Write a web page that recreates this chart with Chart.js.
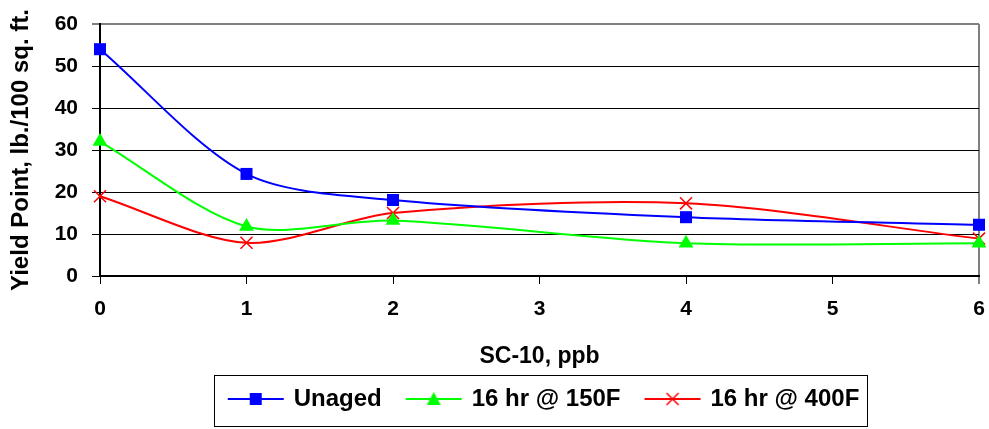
<!DOCTYPE html>
<html>
<head>
<meta charset="utf-8">
<script src="https://cdn.jsdelivr.net/npm/chart.js@4"></script>
<style>body{margin:0;background:#fff}</style>
</head>
<body>
<canvas id="myChart" width="989" height="429"></canvas>
<script>
const xVals = [0, 1, 2, 4, 6];
const unaged = [54, 24.3, 18.1, 14, 12.2];
const hr150 = [32, 11.8, 13.2, 7.8, 7.8];
const hr400 = [19, 7.9, 15, 17.3, 8.9];
const seriesNames = ['Unaged', '16 hr @ 150F', '16 hr @ 400F'];
const xTicks = [0, 1, 2, 3, 4, 5, 6];
const yTicks = [0, 10, 20, 30, 40, 50, 60];

const FONT = 'Liberation Sans, Arial, sans-serif';

function toPoints(vals) {
  return vals.map((v, i) => ({ x: xVals[i], y: v }));
}

// little line + marker pictures for the legend
function legendIcon(color, kind) {
  const c = document.createElement('canvas');
  c.width = 68; c.height = 20;
  const g = c.getContext('2d');
  g.strokeStyle = color; g.lineWidth = 2;
  g.beginPath(); g.moveTo(11, 10); g.lineTo(67, 10); g.stroke();
  const cx = 39, cy = 10;
  g.fillStyle = color;
  if (kind === 'rect') {
    g.fillRect(cx - 6, cy - 6, 12, 12);
  } else if (kind === 'triangle') {
    g.beginPath(); g.moveTo(cx, cy - 7); g.lineTo(cx + 7, cy + 6); g.lineTo(cx - 7, cy + 6); g.closePath(); g.fill();
  } else {
    g.lineWidth = 1.5;
    g.beginPath();
    g.moveTo(cx - 6, cy - 6); g.lineTo(cx + 6, cy + 6);
    g.moveTo(cx + 6, cy - 6); g.lineTo(cx - 6, cy + 6);
    g.stroke();
  }
  return c;
}

const icons = [
  legendIcon('#0000FF', 'rect'),
  legendIcon('#00FF00', 'triangle'),
  legendIcon('#FF0000', 'cross')
];

const whiteBg = {
  id: 'whiteBg',
  beforeDraw(chart) {
    const c = chart.ctx;
    c.save(); c.fillStyle = '#fff'; c.fillRect(0, 0, chart.width, chart.height); c.restore();
  }
};

const legendBox = {
  id: 'legendBox',
  afterDraw(chart) {
    const hb = chart.legend.legendHitBoxes;
    if (!hb || !hb.length) return;
    const first = hb[0], last = hb[hb.length - 1];
    const cy = first.top + 12;
    const c = chart.ctx;
    c.save();
    c.strokeStyle = '#000'; c.lineWidth = 1;
    const l = Math.round(first.left - 6) + 0.5;
    const r = Math.round(last.left + last.width + 8) + 0.5;
    const t = Math.round(cy - 24) + 0.5;
    const b = Math.round(cy + 27) + 0.5;
    c.strokeRect(l, t, r - l, b - t);
    c.restore();
  }
};

const ctx = document.getElementById('myChart');

const myChart = new Chart(ctx, {
  type: 'line',
  data: {
    datasets: [{
      label: seriesNames[0],
      data: toPoints(unaged),
      borderColor: '#0000FF',
      backgroundColor: '#0000FF',
      pointStyle: 'rect',
      pointRadius: 8.5,
      pointBorderWidth: 0
    }, {
      label: seriesNames[1],
      data: toPoints(hr150),
      borderColor: '#00FF00',
      backgroundColor: '#00FF00',
      pointStyle: 'triangle',
      pointRadius: 8.5,
      pointBorderWidth: 0
    }, {
      label: seriesNames[2],
      data: toPoints(hr400),
      borderColor: '#FF0000',
      backgroundColor: '#FF0000',
      pointStyle: 'crossRot',
      pointRadius: 8.5,
      pointBorderWidth: 1.5
    }]
  },
  options: {
    responsive: false,
    animation: false,
    devicePixelRatio: 1,
    datasets: {
      line: { borderWidth: 2, tension: 0.3, fill: false, clip: false }
    },
    layout: { autoPadding: false, padding: { left: 0, right: 10, top: 24, bottom: 8 } },
    scales: {
      x: {
        type: 'linear',
        min: 0,
        max: 6,
        afterBuildTicks: (s) => { s.ticks = xTicks.map((v) => ({ value: v })); },
        afterFit: (s) => { s.height = 95; s.paddingLeft = 0; s.paddingRight = 0; },
        ticks: { color: '#000', padding: 13, font: { family: FONT, size: 21, weight: 'bold' } },
        grid: {
          color: (c) => (c.tick && c.tick.value === 6 ? '#808080' : 'rgba(0,0,0,0)'),
          lineWidth: (c) => (c.tick && c.tick.value === 6 ? 2 : 1),
          tickColor: '#000',
          tickWidth: 1,
          tickLength: 8
        },
        border: { color: '#000', width: 2 },
        title: {
          display: true,
          text: 'SC-10, ppb',
          color: '#000',
          padding: { top: 0, bottom: 1 },
          font: { family: FONT, size: 23, weight: 'bold' }
        }
      },
      y: {
        min: 0,
        max: 60,
        afterBuildTicks: (s) => { s.ticks = yTicks.map((v) => ({ value: v })); },
        afterFit: (s) => { s.width = 100; s.paddingTop = 0; s.paddingBottom = 0; },
        ticks: { color: '#000', padding: 14, font: { family: FONT, size: 21, weight: 'bold' } },
        grid: {
          color: (c) => (c.tick && c.tick.value === 60 ? '#808080' : '#000'),
          lineWidth: (c) => (c.tick && c.tick.value === 60 ? 2 : 1),
          tickColor: '#000',
          tickWidth: 1,
          tickLength: 8
        },
        border: { color: '#000', width: 2 },
        title: {
          display: true,
          text: 'Yield Point, lb./100 sq. ft.',
          color: '#000',
          padding: { top: 7, bottom: 0 },
          font: { family: FONT, size: 24, weight: 'bold' }
        }
      }
    },
    plugins: {
      tooltip: { enabled: false },
      legend: {
        position: 'bottom',
        fullSize: false,
        labels: {
          usePointStyle: true,
          pointStyleWidth: 62,
          padding: 16,
          color: '#000',
          font: { family: FONT, size: 24, weight: 'bold' },
          generateLabels: (chart) => chart.data.datasets.map((ds, i) => ({
            text: ds.label,
            pointStyle: icons[i],
            datasetIndex: i,
            hidden: false,
            lineWidth: 0,
            fillStyle: 'transparent',
            strokeStyle: 'transparent',
            fontColor: '#000'
          }))
        }
      }
    }
  },
  plugins: [whiteBg, legendBox]
});
</script>
</body>
</html>
